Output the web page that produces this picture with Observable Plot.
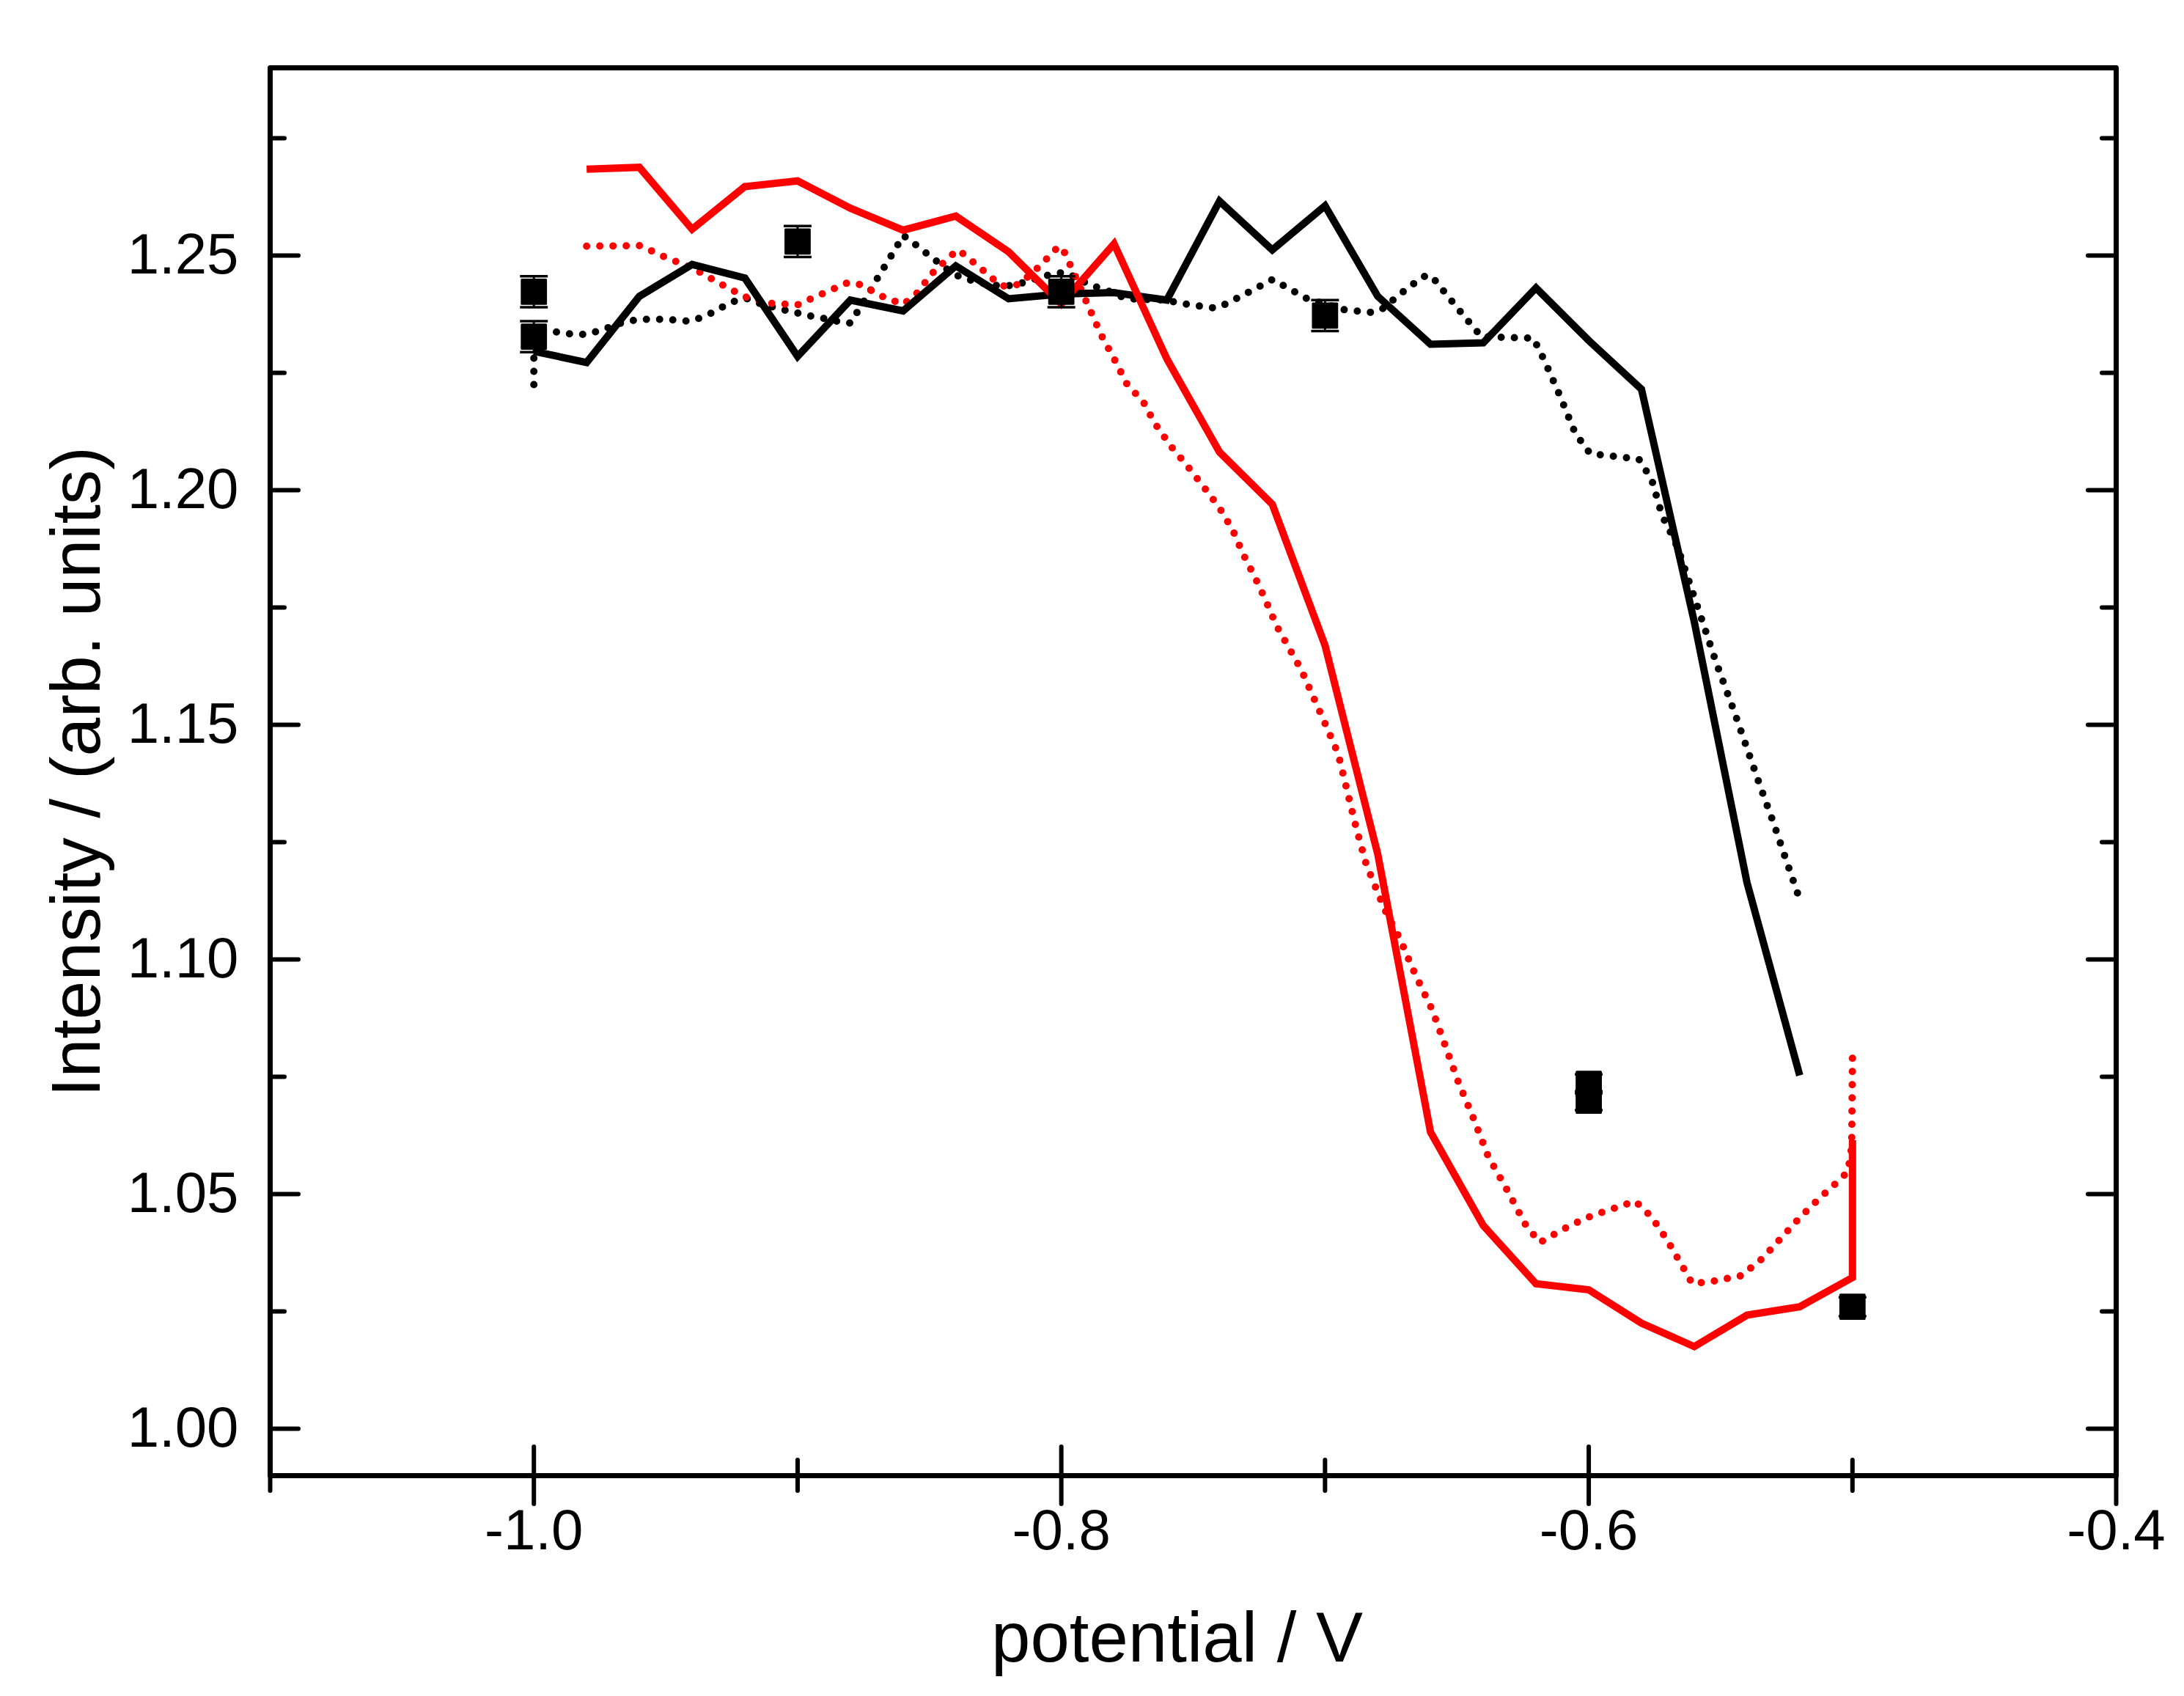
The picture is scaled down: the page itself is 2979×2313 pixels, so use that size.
<!DOCTYPE html>
<html>
<head>
<meta charset="utf-8">
<script src="https://cdn.jsdelivr.net/npm/d3@7"></script>
<script src="https://cdn.jsdelivr.net/npm/@observablehq/plot@0.6"></script>
<style>
html, body { margin: 0; padding: 0; background: #ffffff; }
#chart svg { display: block; overflow: visible; }
</style>
</head>
<body>
<div id="chart"></div>
<script>
// ---------- data (potential / V, intensity) ----------
const redSolid = [
  [-0.98,1.2684],[-0.96,1.2688],[-0.94,1.2556],[-0.92,1.2647],[-0.90,1.2659],
  [-0.88,1.2601],[-0.86,1.2554],[-0.84,1.2584],[-0.82,1.2508],[-0.80,1.2397],
  [-0.78,1.2525],[-0.76,1.2280],[-0.74,1.2081],[-0.72,1.1970],[-0.70,1.1669],
  [-0.68,1.1224],[-0.66,1.0632],[-0.64,1.0433],[-0.62,1.0309],[-0.60,1.0296],
  [-0.58,1.0225],[-0.56,1.0175],[-0.54,1.0242],[-0.52,1.0260],[-0.50,1.0322],
  [-0.50,1.0615]
];

const redDotted = [
  [-0.980,1.2520],[-0.960,1.2521],[-0.955,1.2509],[-0.950,1.2496],[-0.940,1.2474],
  [-0.930,1.2442],[-0.920,1.2412],[-0.910,1.2398],[-0.900,1.2395],[-0.890,1.2420],
  [-0.881,1.2442],[-0.876,1.2438],[-0.868,1.2413],[-0.860,1.2396],[-0.855,1.2418],
  [-0.849,1.2462],[-0.842,1.2499],[-0.839,1.2512],[-0.830,1.2470],[-0.823,1.2436],
  [-0.820,1.2434],[-0.816,1.2439],[-0.810,1.2468],[-0.805,1.2496],[-0.801,1.2520],
  [-0.799,1.2509],[-0.795,1.2460],[-0.791,1.2408],[-0.785,1.2332],[-0.780,1.2280],
  [-0.775,1.2225],[-0.769,1.2189],[-0.7644,1.2141],[-0.7585,1.2094],[-0.752,1.2050],
  [-0.746,1.2007],[-0.740,1.1962],[-0.735,1.1915],[-0.731,1.1863],[-0.7263,1.1811],
  [-0.7224,1.1764],[-0.7185,1.1712],[-0.7137,1.1664],[-0.709,1.1617],[-0.703,1.1541],
  [-0.699,1.1490],[-0.695,1.1438],[-0.6916,1.1359],[-0.6883,1.1283],[-0.6844,1.1203],
  [-0.6805,1.1149],[-0.6766,1.1097],[-0.6717,1.1045],[-0.6658,1.0968],[-0.6594,1.0893],
  [-0.6544,1.0816],[-0.6494,1.0738],[-0.6437,1.0661],[-0.6381,1.0580],[-0.631,1.0509],
  [-0.6239,1.0434],[-0.6185,1.0397],[-0.6097,1.0425],[-0.6011,1.0449],[-0.5919,1.0467],
  [-0.5824,1.0485],[-0.5763,1.0452],[-0.5706,1.0405],[-0.5656,1.0357],[-0.5607,1.0309],
  [-0.5521,1.0315],[-0.5422,1.0326],[-0.5341,1.0363],[-0.5273,1.0405],[-0.5206,1.0446],
  [-0.5131,1.0488],[-0.5055,1.0527],[-0.5017,1.0548],[-0.5003,1.0601],[-0.5000,1.0790]
];

const blackSolid = [
  [-1.00,1.2296],[-0.98,1.2272],[-0.96,1.2413],[-0.94,1.2481],[-0.92,1.2452],
  [-0.90,1.2285],[-0.88,1.2405],[-0.86,1.2382],[-0.84,1.2478],[-0.82,1.2408],
  [-0.80,1.2418],[-0.78,1.2421],[-0.76,1.2405],[-0.74,1.2616],[-0.72,1.2512],
  [-0.70,1.2606],[-0.68,1.2413],[-0.66,1.2311],[-0.64,1.2314],[-0.62,1.2431],
  [-0.60,1.2319],[-0.58,1.2215],[-0.56,1.1720],[-0.54,1.1164],[-0.52,1.0753]
];

const blackDotted = [
  [-1.000,1.2225],[-1.000,1.2345],[-0.995,1.2340],[-0.985,1.2332],[-0.980,1.2332],
  [-0.975,1.2340],[-0.970,1.2350],[-0.966,1.2358],[-0.960,1.2364],[-0.950,1.2364],
  [-0.941,1.2360],[-0.937,1.2367],[-0.932,1.2379],[-0.928,1.2392],[-0.923,1.2405],
  [-0.919,1.2408],[-0.914,1.2397],[-0.905,1.2384],[-0.895,1.2371],[-0.890,1.2366],
  [-0.885,1.2360],[-0.880,1.2356],[-0.8728,1.2421],[-0.870,1.2449],[-0.8674,1.2473],
  [-0.8626,1.2517],[-0.860,1.2543],[-0.8568,1.2530],[-0.8487,1.2494],[-0.8409,1.2460],
  [-0.8313,1.2442],[-0.822,1.2434],[-0.8164,1.2439],[-0.8074,1.2454],[-0.8026,1.2462],
  [-0.7983,1.2464],[-0.7894,1.2438],[-0.7805,1.2421],[-0.7756,1.2408],[-0.7608,1.2405],
  [-0.7513,1.2395],[-0.7415,1.2388],[-0.7375,1.2397],[-0.7286,1.2423],[-0.7199,1.2449],
  [-0.711,1.2421],[-0.7068,1.2408],[-0.6924,1.2384],[-0.6826,1.2379],[-0.6788,1.2384],
  [-0.6708,1.2421],[-0.6629,1.2455],[-0.6597,1.2457],[-0.6534,1.2413],[-0.647,1.2369],
  [-0.6407,1.2327],[-0.621,1.2324],[-0.6167,1.2275],[-0.611,1.2202],[-0.6051,1.2121],
  [-0.5995,1.2078],[-0.581,1.2066],[-0.5761,1.2022],[-0.5722,1.1946],[-0.5673,1.1891],
  [-0.5654,1.1863],[-0.5595,1.1764],[-0.5517,1.1633],[-0.5449,1.1529],[-0.540,1.1450],
  [-0.5351,1.1371],[-0.5302,1.1295],[-0.5254,1.1216],[-0.5205,1.1136]
];

const squareX   = [-1.0, -1.0, -0.9, -0.8, -0.7, -0.6, -0.6, -0.5];
const squareY   = [1.2423, 1.2327, 1.2530, 1.2423, 1.2372, 1.0735, 1.0699, 1.0260];
const squareErr = [0.0033, 0.0033, 0.0033, 0.0033, 0.0033, 0.0020, 0.0020, 0.0020];

const xMajor = [-1.0, -0.8, -0.6, -0.4];
const xMinor = [-1.1, -0.9, -0.7, -0.5];
const xTickLabels = ["-1.0", "-0.8", "-0.6", "-0.4"];
const yMajor = [1.00, 1.05, 1.10, 1.15, 1.20, 1.25];
const yMinor = [1.025, 1.075, 1.125, 1.175, 1.225, 1.275];
const yTickLabels = ["1.00", "1.05", "1.10", "1.15", "1.20", "1.25"];
const xTitle = "potential / V";
const yTitle = "Intensity / (arb. units)";

// ---------- chart ----------
const squares = squareX.map((x, i) => ({x, y: squareY[i], e: squareErr[i]}));
const font = "'Liberation Sans', Arial, Helvetica, sans-serif";
const capSymbol = {
  draw(ctx, size) { const w = Math.sqrt(size); ctx.moveTo(-w / 2, 0); ctx.lineTo(w / 2, 0); }
};
const px = d => d[0], py = d => d[1];
const solid = c => ({x: px, y: py, stroke: c, strokeWidth: 10, strokeLinejoin: "miter", strokeMiterlimit: 6, strokeLinecap: "butt"});
const dotted = c => ({x: px, y: py, stroke: c, strokeWidth: 10, strokeDasharray: "0 18", strokeLinecap: "round", strokeLinejoin: "round"});
const tickOpts = (size, w) => ({tickSize: size, strokeWidth: w, strokeLinecap: "round", tickFormat: () => "", label: null});

const chart = Plot.plot({
  width: 2979,
  height: 2313,
  marginLeft: 368,
  marginRight: 93,
  marginTop: 92,
  marginBottom: 301,
  style: {fontFamily: font, background: "#ffffff", color: "#000000", overflow: "visible"},
  x: {domain: [-1.1, -0.4]},
  y: {domain: [0.99, 1.29]},
  marks: [
    Plot.line(blackDotted, dotted("#000000")),
    Plot.line(redDotted, dotted("#ff0000")),
    Plot.line(blackSolid, solid("#000000")),
    Plot.line(redSolid, solid("#ff0000")),
    Plot.ruleX(squares, {x: "x", y1: d => d.y - d.e, y2: d => d.y + d.e, stroke: "#000000", strokeWidth: 3}),
    Plot.dot(squares, {x: "x", y: d => d.y + d.e, symbol: capSymbol, r: 21.4, fill: "none", stroke: "#000000", strokeWidth: 3.5}),
    Plot.dot(squares, {x: "x", y: d => d.y - d.e, symbol: capSymbol, r: 21.4, fill: "none", stroke: "#000000", strokeWidth: 3.5}),
    Plot.dot(squares, {x: "x", y: "y", symbol: "square", r: 18.5, fill: "#000000", stroke: "#000000", strokeWidth: 3, strokeLinejoin: "round"}),

    Plot.axisY(yMajor, {anchor: "left", ...tickOpts(-39, 6)}),
    Plot.axisY(yMinor, {anchor: "left", ...tickOpts(-20, 6)}),
    Plot.axisY(yMajor, {anchor: "right", ...tickOpts(-39, 6)}),
    Plot.axisY(yMinor, {anchor: "right", ...tickOpts(-20, 6)}),
    Plot.axisX(xMajor, {anchor: "bottom", ...tickOpts(39, 6)}),
    Plot.axisX(xMajor, {anchor: "bottom", ...tickOpts(-39, 6)}),
    Plot.axisX(xMinor, {anchor: "bottom", ...tickOpts(21, 6)}),
    Plot.axisX(xMinor, {anchor: "bottom", ...tickOpts(-21, 6)}),
    Plot.frame({stroke: "#000000", strokeWidth: 7, strokeLinejoin: "round"}),

    Plot.text(yMajor, {y: d => d, text: (d, i) => yTickLabels[i], frameAnchor: "left", dx: -43, textAnchor: "end", lineAnchor: "middle", fontSize: 78, fill: "#000000"}),
    Plot.text(xMajor, {x: d => d, text: (d, i) => xTickLabels[i], frameAnchor: "bottom", dy: 45, textAnchor: "middle", lineAnchor: "top", fontSize: 78, fill: "#000000"}),
    Plot.text([xTitle], {text: d => d, frameAnchor: "bottom", dx: -22, dy: 223, textAnchor: "middle", lineAnchor: "middle", fontSize: 96, fill: "#000000"}),
    Plot.text([yTitle], {text: d => d, frameAnchor: "left", dx: -263, rotate: -90, textAnchor: "middle", lineAnchor: "middle", fontSize: 95, fill: "#000000"})
  ]
});

document.getElementById("chart").appendChild(chart);
</script>
</body>
</html>
